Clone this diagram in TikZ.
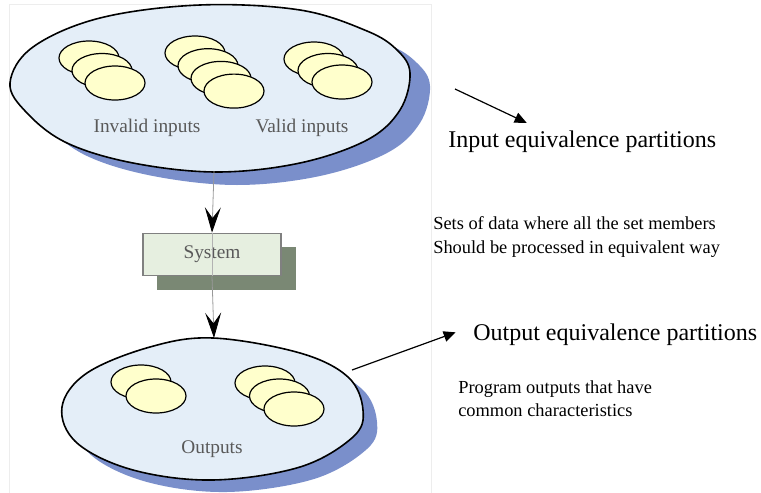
\documentclass[tikz,border=0pt]{standalone}
\usepackage[svgnames]{xcolor}
\usepackage{fontspec}
\setmainfont{Liberation Serif}
\usetikzlibrary{arrows.meta,shapes.geometric}

\definecolor{partfill}{RGB}{228,238,248}
\definecolor{partshade}{RGB}{122,143,203}
\definecolor{discfill}{RGB}{255,255,204}
\definecolor{sysfill}{RGB}{230,239,224}
\definecolor{sysshade}{RGB}{122,136,116}

\begin{document}
\begin{tikzpicture}[x=0.75pt, y=-0.75pt,
	partset/.style={fill=partfill, draw=black, line width=1.2pt,
		preaction={fill=partshade, transform canvas={shift={#1}}}},
	disc/.style={ellipse, draw=black, line width=0.9pt, fill=discfill,
		minimum width=45pt, minimum height=25.5pt, inner sep=0pt},
	inlabel/.style={text=black!65, font=\rmfamily\fontsize{14.5}{16}\selectfont},
	flow/.style={draw=gray!80, line width=0.6pt, arrows={-Stealth[black,length=19pt,width=12pt,inset=8pt]}},
	note/.style={line width=0.9pt, arrows={-Triangle[length=9pt,width=8pt]}},
	bigcap/.style={anchor=west, inner sep=0pt, font=\fontsize{18}{21}\selectfont},
	smallcap/.style={anchor=west, inner sep=0pt, align=left, font=\fontsize{13.8}{17.5}\selectfont}]
	\useasboundingbox (0,0) rectangle (761,493);
	\draw[color=black!7] (9,493) -- (9,4) -- (431,4) -- (431,493);

	% input partitions
	\draw[partset={(15pt,-9.75pt)}] plot[smooth cycle, tension=0.6] coordinates {(10,83) (33,47) (100,18) (200,5) (300,10) (367,31) (397,50) (410,73) (400,110) (367,140) (300,163) (217,172) (133,163) (67,143) (27,113)};
	\foreach \i in {0,1,2}
		\node[disc] (inv\i) at ({89+13*\i},{58+12.5*\i}) {};
	\foreach \i in {0,...,3}
		\node[disc] (mid\i) at ({195+13*\i},{53+12.7*\i}) {};
	\foreach \i in {0,1,2}
		\node[disc] (val\i) at ({314+14*\i},{59+11.5*\i}) {};
	\node[inlabel] (invlbl) at (147,128) {Invalid inputs};
	\node[inlabel] (vallbl) at (302,128) {Valid inputs};
	\coordinate (inbot) at (214,171);

	% output partitions
	\draw[partset={(10.5pt,-9pt)}] plot[smooth cycle, tension=0.6] coordinates {(213,338) (300,353) (348,377) (363,410) (353,437) (300,467) (213,480) (133,470) (77,443) (62,407) (87,373) (150,347)};
	\foreach \i in {0,1}
		\node[disc] (outa\i) at ({141+15*\i},{382+14*\i}) {};
	\foreach \i in {0,1,2}
		\node[disc] (outb\i) at ({265+14.5*\i},{383+13*\i}) {};
	\node[inlabel] (outlbl) at (212,449) {Outputs};
	\coordinate (outtop) at (214,338);
	\coordinate (outedge) at (352,370);

	% system box
	\node[fill=sysshade, minimum width=104pt, minimum height=32pt, inner sep=0pt] (sysbg) at (226.5,268.5) {};
	\node[fill=sysfill, draw=gray, line width=0.8pt, minimum width=103.5pt, minimum height=32pt, inner sep=0pt, inlabel] (sys) at (212,254.5) {System};
	\draw[flow] (inbot) -- (sys.north);
	\draw[draw=gray!60, line width=0.6pt] (sys.north) -- (sys.south);
	\draw[flow] (sys.south) -- (outtop);

	% notes
	\node[bigcap] (inpart) at (448,142) {Input equivalence partitions};
	\node[smallcap] (indesc) at (433,237) {Sets of data where all the set members\\Should be processed in equivalent way};
	\node[bigcap] (outpart) at (473,335) {Output equivalence partitions};
	\node[smallcap] (outdesc) at (458,399) {Program outputs that have\\common characteristics};
	\coordinate (inarr) at (455,89);
	\draw[note] (inarr) -- ([xshift=59pt,yshift=6pt]inpart.north west);
	\draw[note] (outedge) -- ([xshift=-13pt,yshift=2pt]outpart.west);
\end{tikzpicture}
\end{document}
